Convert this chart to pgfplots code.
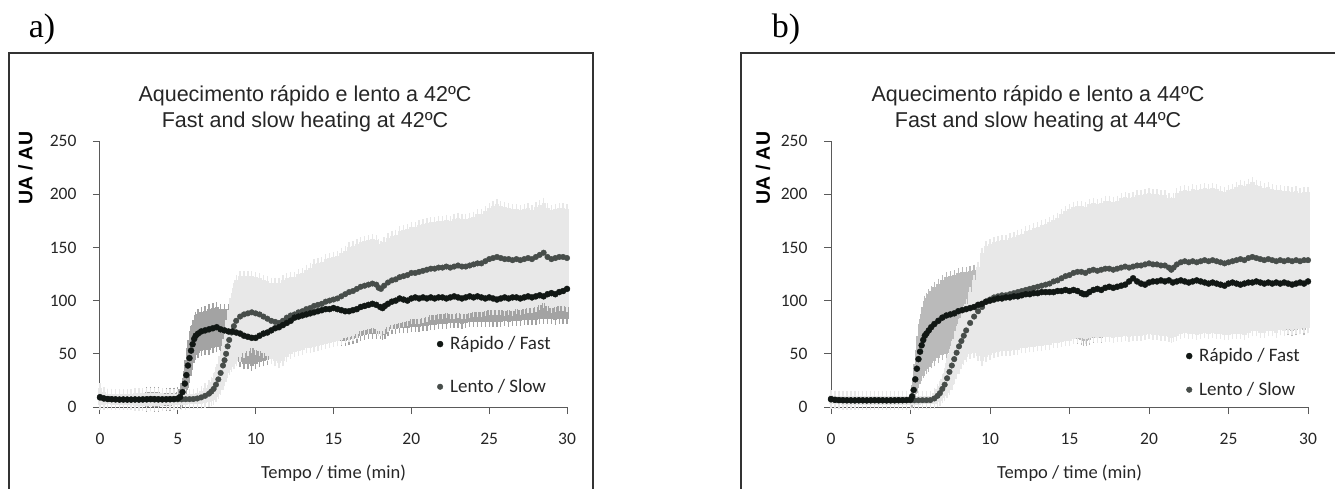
\documentclass[border=0pt]{standalone}
\usepackage{fontspec}
\setmainfont{Carlito}
\newfontfamily\arialf{Liberation Sans}
\newfontfamily\timesf{Liberation Serif}
\usepackage{pgfplots}
\pgfplotsset{compat=1.18}
\usepackage{pgfplotstable}

\definecolor{fastdot}{HTML}{111714}
\definecolor{slowdot}{HTML}{474D4A}
\definecolor{fastbarA}{HTML}{A3A3A3}
\definecolor{fastbarB}{HTML}{BABABA}
\definecolor{slowbar}{HTML}{E8E8E8}
\definecolor{axisgray}{HTML}{5A5A5A}

% a) 42 C, fast heating: time (min), mean, error
\pgfplotstableread{
t y e
0.00 9.0 6
0.25 8.0 5
0.50 7.5 5
0.75 7.3 5
1.00 7.2 5
1.25 7.0 5
1.50 7.1 5
1.75 7.0 5
2.00 7.0 5
2.25 7.1 5
2.50 7.0 6
2.75 7.2 6
3.00 7.3 7
3.25 7.5 7
3.50 7.4 7
3.75 7.3 7
4.00 7.2 6
4.25 7.3 6
4.50 7.4 6
4.75 7.5 6
5.00 8.0 6
5.15 9.5 7
5.30 14 9
5.45 22 12
5.55 30 14
5.65 39 16
5.75 46 17
5.85 53 18
5.95 59 18
6.05 64 18
6.15 67 18
6.30 69 18
6.50 71 18
6.75 72 18
7.00 73 19
7.25 74 19
7.50 75 19
7.75 73 19
8.00 72 20
8.25 71 21
8.50 71 23
8.75 70 25
9.00 69 27
9.25 67 27
9.50 66 26
9.75 65 26
10.00 65 25
10.25 67 25
10.50 69 26
10.75 70 26
11.00 72 26
11.25 74 27
11.50 75 27
11.75 77 27
12.00 79 28
12.25 81 29
12.50 84 29
12.75 85 30
13.00 86 30
13.25 87 30
13.50 88 30
13.75 89 30
14.00 90 30
14.25 91 30
14.50 92 31
14.75 92 31
15.00 93 31
15.25 92 30
15.50 91 29
15.75 90 28
16.00 90 27
16.25 91 27
16.50 92 27
16.75 94 27
17.00 95 27
17.25 96 27
17.50 97 28
17.75 96 27
18.00 94 25
18.15 93 25
18.30 95 26
18.50 97 26
18.75 99 26
19.00 100 27
19.25 102 28
19.50 101 27
19.75 100 26
20.00 102 27
20.25 103 28
20.50 102 27
20.75 103 27
21.00 102 26
21.25 103 26
21.50 102 25
21.75 103 25
22.00 103 25
22.25 102 24
22.50 103 24
22.75 104 25
23.00 103 24
23.25 102 24
23.50 103 24
23.75 104 24
24.00 103 23
24.25 104 24
24.50 103 23
24.75 102 22
25.00 103 23
25.25 102 22
25.50 101 21
25.75 102 22
26.00 103 22
26.25 102 22
26.50 103 22
26.75 103 22
27.00 102 21
27.25 103 21
27.50 104 22
27.75 103 21
28.00 104 22
28.25 105 22
28.50 104 21
28.75 106 23
29.00 107 24
29.25 106 24
29.50 108 25
29.75 109 26
30.00 111 28
}\aFast

% a) 42 C, slow heating
\pgfplotstableread{
t y e
0.00 9.5 8
0.25 8.2 6
0.50 7.6 5
0.75 7.3 5
1.00 7.1 5
1.25 7.0 5
1.50 6.9 5
1.75 7.0 5
2.00 6.9 5
2.25 7.0 6
2.50 7.0 6
2.75 6.9 6
3.00 7.0 6
3.25 7.1 6
3.50 7.0 6
3.75 6.9 6
4.00 7.0 6
4.25 7.0 5
4.50 7.1 5
4.75 7.1 5
5.00 7.2 5
5.25 7.2 5
5.50 7.3 5
5.75 7.4 5
6.00 7.5 5
6.25 8.0 5
6.50 9.0 6
6.75 10.5 7
7.00 12.5 8
7.15 14.5 9
7.30 17 10
7.45 21 12
7.60 26 14
7.75 32 16
7.90 39 18
8.00 44 20
8.10 50 22
8.20 57 25
8.30 63 28
8.45 70 32
8.60 76 36
8.75 81 38
9.00 85 38
9.25 87 36
9.50 88 35
9.75 89 34
10.00 88 34
10.25 87 34
10.50 85 34
10.75 83 35
11.00 81 36
11.25 80 37
11.50 79 38
11.75 81 38
12.00 84 37
12.25 86 36
12.50 87 35
12.75 89 36
13.00 90 36
13.25 92 37
13.50 93 38
13.75 95 39
14.00 96 39
14.25 97 39
14.50 99 40
14.75 100 40
15.00 101 40
15.25 102 40
15.50 104 41
15.75 106 41
16.00 108 42
16.25 109 42
16.50 111 42
16.75 113 42
17.00 114 42
17.25 115 42
17.50 116 42
17.75 115 42
17.90 112 41
18.05 111 40
18.25 114 41
18.50 117 42
18.75 119 42
19.00 120 42
19.25 122 43
19.50 123 43
19.75 124 43
20.00 126 43
20.25 126 43
20.50 127 44
20.75 128 44
21.00 129 44
21.25 130 44
21.50 130 44
21.75 131 44
22.00 131 44
22.25 132 44
22.50 131 44
22.75 132 45
23.00 133 45
23.25 132 45
23.50 132 45
23.75 133 45
24.00 134 45
24.25 135 46
24.50 135 46
24.75 137 47
25.00 139 48
25.25 140 49
25.50 141 50
25.75 140 49
26.00 139 49
26.25 139 48
26.50 138 48
26.75 139 47
27.00 138 47
27.25 139 47
27.50 140 47
27.75 139 46
28.00 141 47
28.25 143 47
28.50 145 47
28.75 141 46
29.00 139 46
29.25 140 46
29.50 141 46
29.75 141 46
30.00 140 46
}\aSlow

% b) 44 C, fast heating
\pgfplotstableread{
t y e
0.00 7.5 4
0.25 6.8 4
0.50 6.5 4
0.75 6.4 4
1.00 6.3 4
1.25 6.3 4
1.50 6.2 4
1.75 6.3 4
2.00 6.3 4
2.25 6.2 4
2.50 6.3 4
2.75 6.4 4
3.00 6.3 4
3.25 6.3 4
3.50 6.2 4
3.75 6.3 4
4.00 6.3 4
4.25 6.4 4
4.50 6.4 4
4.75 6.5 4
5.00 6.8 4
5.10 10 6
5.20 16 9
5.30 26 14
5.40 36 18
5.50 45 22
5.60 52 26
5.70 58 29
5.80 63 31
5.90 67 33
6.00 69 33
6.15 72 34
6.30 75 34
6.50 78 35
6.75 81 35
7.00 84 35
7.25 86 36
7.50 87 36
7.75 88 36
8.00 90 36
8.25 91 36
8.50 92 35
8.75 93 35
9.00 94 35
9.25 96 35
9.50 97 35
9.75 99 36
10.00 100 37
10.25 101 38
10.50 102 39
10.75 102 40
11.00 103 41
11.25 103 41
11.50 104 42
11.75 104 42
12.00 105 43
12.25 106 43
12.50 106 43
12.75 107 44
13.00 107 44
13.25 108 44
13.50 108 45
13.75 108 45
14.00 108 45
14.25 109 45
14.50 109 45
14.75 110 45
15.00 109 45
15.25 110 45
15.50 109 45
15.75 107 44
15.90 106 44
16.05 106 44
16.25 108 45
16.50 110 45
16.75 111 45
17.00 110 45
17.25 112 45
17.50 113 45
17.75 112 45
18.00 113 45
18.25 114 45
18.50 115 45
18.75 118 46
19.00 121 46
19.25 118 45
19.50 116 45
19.75 115 45
20.00 117 45
20.25 118 45
20.50 118 45
20.75 119 45
21.00 118 45
21.25 119 45
21.50 117 44
21.75 118 44
22.00 119 45
22.25 118 45
22.50 117 44
22.75 118 44
23.00 119 45
23.25 118 44
23.50 117 44
23.75 116 44
24.00 117 44
24.25 116 44
24.50 115 44
24.75 114 43
25.00 116 44
25.25 117 44
25.50 116 44
25.75 115 44
26.00 116 44
26.25 117 44
26.50 117 44
26.75 118 44
27.00 117 44
27.25 116 44
27.50 117 44
27.75 116 44
28.00 117 44
28.25 116 44
28.50 117 44
28.75 116 44
29.00 115 44
29.25 116 44
29.50 117 44
29.75 116 44
30.00 118 44
}\bFast

% b) 44 C, slow heating
\pgfplotstableread{
t y e
0.00 7.0 4
0.25 6.6 4
0.50 6.4 4
0.75 6.3 4
1.00 6.3 4
1.25 6.2 4
1.50 6.3 4
1.75 6.3 4
2.00 6.2 4
2.25 6.3 4
2.50 6.3 4
2.75 6.2 4
3.00 6.3 4
3.25 6.3 4
3.50 6.3 4
3.75 6.2 4
4.00 6.3 4
4.25 6.3 4
4.50 6.3 4
4.75 6.3 4
5.00 6.3 4
5.25 6.3 4
5.50 6.3 4
5.75 6.4 4
6.00 6.4 4
6.25 6.5 4
6.50 8 5
6.70 10.5 6
6.85 13 7
7.00 17 9
7.15 21 11
7.30 27 14
7.45 33 17
7.60 39 18
7.75 45 19
7.90 51 20
8.05 57 21
8.20 62 22
8.35 67 23
8.50 72 25
8.75 79 29
9.00 85 34
9.25 90 42
9.50 94 51
9.75 99 52
10.00 101 52
10.25 103 52
10.50 104 52
10.75 105 52
11.00 105 52
11.25 106 53
11.50 107 53
11.75 108 54
12.00 109 54
12.25 110 55
12.50 111 55
12.75 112 56
13.00 113 56
13.25 114 57
13.50 115 57
13.75 116 58
14.00 118 58
14.25 119 59
14.50 121 60
14.75 123 61
15.00 124 62
15.25 126 62
15.50 127 62
15.75 127 62
16.00 126 62
16.25 128 63
16.50 129 63
16.75 128 63
17.00 129 63
17.25 130 64
17.50 130 64
17.75 129 64
18.00 130 64
18.25 131 65
18.50 132 65
18.75 131 65
19.00 132 65
19.25 133 66
19.50 133 66
19.75 134 66
20.00 135 66
20.25 134 66
20.50 134 66
20.75 133 66
21.00 133 66
21.25 131 65
21.40 129 64
21.55 131 65
21.75 134 67
22.00 136 67
22.25 137 67
22.50 136 67
22.75 137 68
23.00 136 68
23.25 137 68
23.50 138 68
23.75 137 68
24.00 138 68
24.25 137 68
24.50 136 67
24.75 135 67
25.00 136 68
25.25 137 68
25.50 138 69
25.75 139 70
26.00 138 70
26.25 140 70
26.50 141 70
26.75 140 69
27.00 139 69
27.25 138 68
27.50 139 68
27.75 138 67
28.00 137 67
28.25 138 66
28.50 137 66
28.75 138 65
29.00 137 65
29.25 138 65
29.50 137 64
29.75 138 64
30.00 138 64
}\bSlow

\pgfplotsset{
  panel/.style={
    scale only axis, height=266pt,
    xmin=0, xmax=30, ymin=0, ymax=250,
    axis lines=left,
    axis line style={-, draw=axisgray, line width=1pt},
    tick style={draw=axisgray, line width=1pt},
    major tick length=7pt, tick align=outside,
    xtick={0,5,...,30}, ytick={0,50,...,250},
    /pgf/number format/assume math mode=true,
    ticklabel style={font=\fontsize{17.5}{20}\selectfont, text=black!85},
    yticklabel style={xshift=-13pt},
    xticklabel style={yshift=-16pt},
    xlabel={Tempo / time (min)},
    xlabel style={font=\fontsize{18.5}{20}\selectfont, text=black!85,
      at={(axis description cs:0.5,-0.248)}, anchor=center},
    ylabel={UA / AU},
    ylabel style={font=\arialf\bfseries\fontsize{19.5}{20}\selectfont,
      anchor=center},
    title style={font=\arialf\fontsize{21.5}{26}\selectfont, text=black!85,
      align=center, anchor=center},
    clip=false,
    reverse legend,
    legend cell align=left,
    legend style={draw=none, fill=none, anchor=north west,
      font=\fontsize{19}{20}\selectfont, text=black!85,
      /tikz/every odd column/.append style={column sep=5pt}},
    legend image code/.code={\draw[##1] plot coordinates {(0pt,0pt)};},
  },
  fastbars/.style={only marks, mark=none, forget plot,
    error bars/.cd, y dir=both, y explicit,
    error bar style={draw=#1, solid, line width=4.2pt},
    error mark options={draw=#1, solid, line width=1.3pt, mark size=5pt}},
  slowbars/.style={only marks, mark=none, forget plot,
    error bars/.cd, y dir=both, y explicit,
    error bar style={draw=slowbar, solid, line width=4.3pt},
    error mark options={draw=slowbar, solid, line width=1.3pt, mark size=5pt}},
}

\begin{document}
\begin{tikzpicture}
\useasboundingbox (0pt,0pt) rectangle (1335pt,488pt);

% frames round each chart
\draw[line width=1.2pt, black!80] (9pt,-10pt) -- (9pt,435pt) -- (593pt,435pt) -- (593pt,-10pt);
\draw[line width=1.2pt, black!80] (741pt,-10pt) -- (741pt,435pt) -- (1345pt,435pt);
\node[font=\timesf\fontsize{34}{34}\selectfont] at (42pt,459pt) {a)};
\node[font=\timesf\fontsize{34}{34}\selectfont] at (786pt,459pt) {b)};

% a) 42 C
\begin{axis}[panel, at={(100pt,81pt)}, anchor=south west, width=467pt,
  title={Aquecimento rápido e lento a 42ºC\\Fast and slow heating at 42ºC},
  title style={at={(axis description cs:0.439,1.098)}},
  ylabel style={at={(axis description cs:-0.1595,0.898)}},
  legend style={at={(axis description cs:0.715,0.280)}, row sep=24pt},
]
\addplot[fastbars=fastbarA] table[x=t, y=y, y error=e] {\aFast};
\addplot[slowbars] table[x=t, y=y, y error=e] {\aSlow};
\addplot[only marks, mark=*, mark size=2.8pt, color=slowdot] table[x=t, y=y] {\aSlow};
\addlegendentry{Lento / Slow}
\addplot[only marks, mark=*, mark size=3pt, color=fastdot] table[x=t, y=y] {\aFast};
\addlegendentry{Rápido / Fast}
\end{axis}

% b) 44 C
\begin{axis}[panel, at={(831pt,81pt)}, anchor=south west, width=477pt,
  title={Aquecimento rápido e lento a 44ºC\\Fast and slow heating at 44ºC},
  title style={at={(axis description cs:0.434,1.098)}},
  ylabel style={at={(axis description cs:-0.1426,0.898)}},
  legend style={at={(axis description cs:0.738,0.235)}, row sep=15pt},
]
\addplot[fastbars=fastbarB] table[x=t, y=y, y error=e] {\bFast};
\addplot[slowbars] table[x=t, y=y, y error=e] {\bSlow};
\addplot[only marks, mark=*, mark size=2.8pt, color=slowdot] table[x=t, y=y] {\bSlow};
\addlegendentry{Lento / Slow}
\addplot[only marks, mark=*, mark size=3pt, color=fastdot] table[x=t, y=y] {\bFast};
\addlegendentry{Rápido / Fast}
\end{axis}
\end{tikzpicture}
\end{document}
